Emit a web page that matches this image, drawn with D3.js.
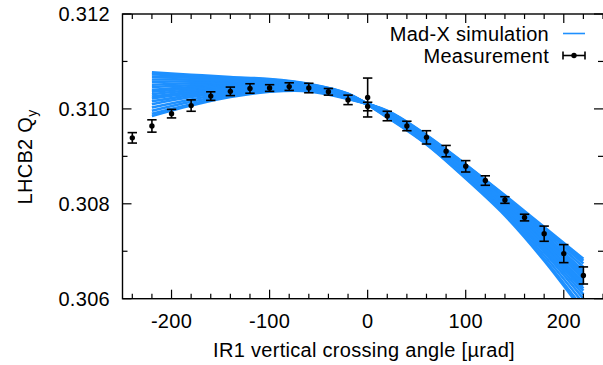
<!DOCTYPE html>
<html>
<head>
<meta charset="utf-8">
<script src="https://cdn.jsdelivr.net/npm/d3@7"></script>
<style>
  body { margin: 0; background: #fff; }
  text { font-family: "Liberation Sans", Arial, Helvetica, sans-serif; fill: #000; letter-spacing: 0.3px; }
</style>
</head>
<body>
<svg width="603" height="365"></svg>
<script>
// Mad-X simulation runs, sampled every 40 urad
const simX = [-220, -180, -140, -100, -60, -20, 20, 60, 100, 140, 180, 220];
const simRuns = [
  [0.31077, 0.31072, 0.31067, 0.31063, 0.31053, 0.31032, 0.30984, 0.30928, 0.30858, 0.30782, 0.30691, 0.30590],
  [0.31073, 0.31069, 0.31065, 0.31062, 0.31052, 0.31032, 0.30982, 0.30925, 0.30853, 0.30775, 0.30680, 0.30572],
  [0.31068, 0.31066, 0.31063, 0.31060, 0.31051, 0.31031, 0.30986, 0.30930, 0.30861, 0.30786, 0.30698, 0.30600],
  [0.31062, 0.31062, 0.31060, 0.31059, 0.31050, 0.31030, 0.30987, 0.30932, 0.30863, 0.30789, 0.30703, 0.30609],
  [0.31057, 0.31058, 0.31058, 0.31057, 0.31049, 0.31030, 0.30983, 0.30926, 0.30855, 0.30778, 0.30684, 0.30579],
  [0.31051, 0.31054, 0.31055, 0.31055, 0.31048, 0.31029, 0.30988, 0.30934, 0.30866, 0.30794, 0.30712, 0.30622],
  [0.31046, 0.31050, 0.31053, 0.31054, 0.31048, 0.31028, 0.30988, 0.30933, 0.30865, 0.30792, 0.30708, 0.30617],
  [0.31040, 0.31046, 0.31050, 0.31052, 0.31047, 0.31028, 0.30990, 0.30936, 0.30870, 0.30799, 0.30719, 0.30634],
  [0.31036, 0.31043, 0.31048, 0.31051, 0.31046, 0.31027, 0.30989, 0.30935, 0.30868, 0.30797, 0.30716, 0.30628],
  [0.31031, 0.31040, 0.31046, 0.31050, 0.31045, 0.31027, 0.30991, 0.30937, 0.30872, 0.30802, 0.30724, 0.30641],
  [0.31026, 0.31036, 0.31044, 0.31048, 0.31044, 0.31026, 0.30992, 0.30939, 0.30874, 0.30805, 0.30730, 0.30650],
  [0.31022, 0.31033, 0.31042, 0.31047, 0.31043, 0.31025, 0.30991, 0.30938, 0.30873, 0.30803, 0.30727, 0.30646],
  [0.31016, 0.31029, 0.31039, 0.31045, 0.31042, 0.31025, 0.30993, 0.30941, 0.30876, 0.30809, 0.30735, 0.30659],
  [0.31010, 0.31025, 0.31036, 0.31043, 0.31041, 0.31024, 0.30994, 0.30942, 0.30879, 0.30812, 0.30740, 0.30667],
  [0.31003, 0.31020, 0.31033, 0.31041, 0.31040, 0.31023, 0.30992, 0.30940, 0.30875, 0.30807, 0.30733, 0.30655],
  [0.30996, 0.31015, 0.31030, 0.31039, 0.31039, 0.31022, 0.30995, 0.30943, 0.30880, 0.30814, 0.30745, 0.30674],
  [0.30990, 0.31010, 0.31027, 0.31037, 0.31038, 0.31022, 0.30995, 0.30944, 0.30882, 0.30816, 0.30748, 0.30680],
  [0.30985, 0.31007, 0.31025, 0.31036, 0.31037, 0.31021, 0.30996, 0.30945, 0.30883, 0.30818, 0.30751, 0.30684]
];

// measured tune with error bars
const measX = [-240, -220, -200, -180, -160, -140, -120, -100, -80, -60, -40, -20, 0, 0,
  20, 40, 60, 80, 100, 120, 140, 160, 180, 200, 220];
const measY = [0.30939, 0.30964, 0.30990, 0.31007, 0.31027, 0.31037, 0.31043, 0.31044, 0.31047, 0.31044, 0.31036, 0.31019, 0.31024, 0.31005,
  0.30985, 0.30964, 0.30940, 0.30911, 0.30879, 0.30849, 0.30808, 0.30771, 0.30737, 0.30695, 0.30649];
const measErr = [0.00011, 0.00013, 0.00009, 0.00012, 0.00009, 0.00009, 0.00010, 0.00007, 0.00008, 0.00010, 0.00007, 0.00010, 0.00041, 0.00009,
  0.00010, 0.00010, 0.00014, 0.00012, 0.00012, 0.00010, 0.00007, 0.00007, 0.00016, 0.00019, 0.00018];

const xMajor = [-200, -100, 0, 100, 200];
const yMajor = [0.306, 0.308, 0.310, 0.312];

var margin = { top: 14, right: 0, bottom: 66, left: 122.5 },
  width = 603,
  height = 365;

const blue = "#1e90ff";

const x = d3.scaleLinear().domain([-250, 240]).range([margin.left, width - margin.right]);
const y = d3.scaleLinear().domain([0.306, 0.312]).range([height - margin.bottom - 0.3, margin.top]);

const svg = d3.select("svg");

svg.append("clipPath").attr("id", "plot")
  .append("rect")
  .attr("x", x.range()[0]).attr("y", y.range()[1])
  .attr("width", x.range()[1] - x.range()[0])
  .attr("height", y.range()[0] - y.range()[1]);

// simulation band
const line = d3.line()
  .x((d, i) => x(simX[i]))
  .y((d) => y(d))
  .curve(d3.curveCatmullRom);

svg.append("g")
  .attr("clip-path", "url(#plot)")
  .selectAll("path")
  .data(simRuns)
  .join("path")
  .attr("d", line)
  .attr("fill", "none")
  .attr("stroke", blue)
  .attr("stroke-width", 2.6);

// axes: ticks inside, mirrored on all sides
const x0 = x.range()[0], x1 = x.range()[1], y0 = y.range()[0], y1 = y.range()[1];

const xMinor = d3.range(-240, 241, 20).filter((v) => v % 100 !== 0);
const yMinor = [0.307, 0.309, 0.311];

const gx = svg.append("g").attr("stroke", "#000").attr("stroke-width", 1.2);
xMajor.concat(xMinor).forEach(function(v) {
  const len = xMajor.includes(v) ? 9 : 5;
  gx.append("line").attr("x1", x(v)).attr("x2", x(v)).attr("y1", y0).attr("y2", y0 - len);
  gx.append("line").attr("x1", x(v)).attr("x2", x(v)).attr("y1", y1).attr("y2", y1 + len);
});
yMajor.concat(yMinor).forEach(function(v) {
  const len = yMajor.includes(v) ? 9 : 5;
  gx.append("line").attr("y1", y(v)).attr("y2", y(v)).attr("x1", x0).attr("x2", x0 + len);
  gx.append("line").attr("y1", y(v)).attr("y2", y(v)).attr("x1", x1).attr("x2", x1 - len);
});

svg.append("rect")
  .attr("x", x0).attr("y", y1)
  .attr("width", x1 - x0 + 1).attr("height", y0 - y1)
  .attr("fill", "none")
  .attr("stroke", "#000")
  .attr("stroke-width", 1.4);

svg.append("g")
  .selectAll("text")
  .data(xMajor)
  .join("text")
  .attr("x", (d) => x(d))
  .attr("y", 328)
  .attr("text-anchor", "middle")
  .style("font-size", "20px")
  .text((d) => d);

svg.append("g")
  .selectAll("text")
  .data(yMajor)
  .join("text")
  .attr("x", 110)
  .attr("y", (d) => y(d) + 7)
  .attr("text-anchor", "end")
  .style("font-size", "20px")
  .text(d3.format(".3f"));

svg.append("text")
  .attr("x", 364)
  .attr("y", 357)
  .attr("text-anchor", "middle")
  .style("font-size", "20px")
  .text("IR1 vertical crossing angle [\u00b5rad]");

const ylab = svg.append("text")
  .attr("transform", "translate(32,157) rotate(-90)")
  .attr("text-anchor", "middle")
  .style("font-size", "20px");
ylab.append("tspan").text("LHCB2 Q");
ylab.append("tspan").attr("dy", 5).style("font-size", "14px").text("y");

// measurements
const meas = measX.map((d, i) => ({ x: d, y: measY[i], e: measErr[i] }));

const pts = svg.append("g").attr("stroke", "#000").attr("stroke-width", 1.6);
pts.selectAll("line.bar")
  .data(meas)
  .join("line")
  .attr("class", "bar")
  .attr("x1", (d) => x(d.x)).attr("x2", (d) => x(d.x))
  .attr("y1", (d) => y(d.y - d.e)).attr("y2", (d) => y(d.y + d.e));
pts.selectAll("line.top")
  .data(meas)
  .join("line")
  .attr("class", "top")
  .attr("x1", (d) => x(d.x) - 4.7).attr("x2", (d) => x(d.x) + 4.7)
  .attr("y1", (d) => y(d.y + d.e)).attr("y2", (d) => y(d.y + d.e));
pts.selectAll("line.bot")
  .data(meas)
  .join("line")
  .attr("class", "bot")
  .attr("x1", (d) => x(d.x) - 4.7).attr("x2", (d) => x(d.x) + 4.7)
  .attr("y1", (d) => y(d.y - d.e)).attr("y2", (d) => y(d.y - d.e));
svg.append("g")
  .selectAll("circle")
  .data(meas)
  .join("circle")
  .attr("cx", (d) => x(d.x))
  .attr("cy", (d) => y(d.y))
  .attr("r", 2.7)
  .attr("fill", "#000");

// legend
const lg = svg.append("g");
lg.append("text").attr("x", 549).attr("y", 40.5).attr("text-anchor", "end")
  .style("font-size", "20px").text("Mad-X simulation");
lg.append("line").attr("x1", 563).attr("x2", 585).attr("y1", 33.5).attr("y2", 33.5)
  .attr("stroke", blue).attr("stroke-width", 1.6);
lg.append("text").attr("x", 549).attr("y", 63).attr("text-anchor", "end")
  .style("font-size", "20px").text("Measurement");
lg.append("line").attr("x1", 563).attr("x2", 585).attr("y1", 55.5).attr("y2", 55.5)
  .attr("stroke", "#000").attr("stroke-width", 1.6);
lg.append("line").attr("x1", 563).attr("x2", 563).attr("y1", 51.5).attr("y2", 59.5)
  .attr("stroke", "#000").attr("stroke-width", 1.6);
lg.append("line").attr("x1", 585).attr("x2", 585).attr("y1", 51.5).attr("y2", 59.5)
  .attr("stroke", "#000").attr("stroke-width", 1.6);
lg.append("circle").attr("cx", 574).attr("cy", 55.5).attr("r", 2.7).attr("fill", "#000");
</script>
</body>
</html>
